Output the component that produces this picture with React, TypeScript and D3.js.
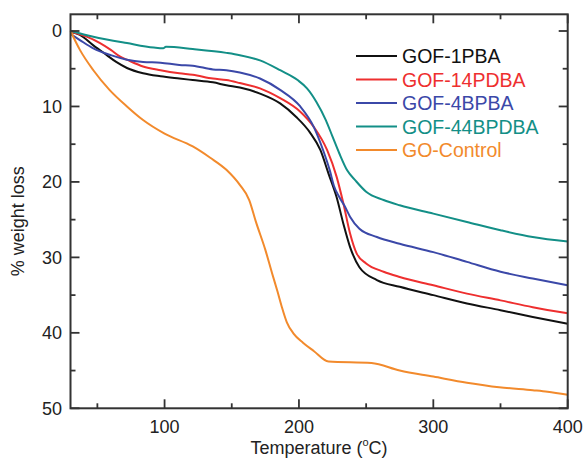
import React from "react";
import * as d3 from "d3";

const xMajorTicks = [100, 200, 300, 400];
const xMinorTicks = [50, 150, 250, 350];
const yMajorTicks = [0, 10, 20, 30, 40, 50];
const yMinorTicks = [5, 15, 25, 35, 45];

const tempBlack = [30, 37, 47, 57, 64, 72, 84, 97, 111, 121, 136, 146, 156, 171, 186, 198, 208, 216, 222, 228, 233, 238, 245, 258, 275, 300, 325, 350, 374, 400];
const lossBlack = [0.1, 0.5, 1.9, 3.2, 4.1, 4.9, 5.6, 6.0, 6.3, 6.5, 6.8, 7.2, 7.5, 8.3, 9.6, 11.4, 13.4, 15.8, 18.9, 22.0, 25.5, 28.6, 31.3, 33.0, 33.9, 35.0, 36.1, 37.0, 37.9, 38.8];

const tempRed = [30, 42, 52, 60, 67, 72, 84, 97, 111, 121, 136, 146, 156, 171, 186, 201, 211, 221, 228, 233, 238, 243, 250, 263, 275, 300, 325, 350, 374, 400];
const lossRed = [0.1, 0.75, 1.6, 2.5, 3.4, 3.8, 4.7, 5.2, 5.6, 5.8, 6.3, 6.5, 6.9, 7.6, 8.9, 10.7, 12.7, 15.8, 19.3, 22.8, 26.8, 29.5, 30.8, 31.9, 32.6, 33.7, 34.8, 35.7, 36.6, 37.4];

const tempBlue = [30, 37, 47, 60, 72, 84, 97, 111, 121, 136, 146, 156, 171, 186, 201, 211, 218, 223, 226, 230, 234, 238, 245, 258, 275, 300, 325, 350, 374, 400];
const lossBlue = [0.4, 1.2, 2.3, 3.2, 3.8, 4.1, 4.2, 4.5, 4.6, 5.1, 5.2, 5.5, 6.3, 7.8, 10.0, 12.7, 15.8, 18.5, 20.5, 22.0, 23.2, 24.6, 26.2, 27.3, 28.2, 29.3, 30.6, 31.9, 32.8, 33.7];

const tempTeal = [30, 47, 72, 92, 99, 101, 121, 146, 156, 171, 186, 199, 206, 213, 220, 225, 230, 236, 242, 250, 263, 275, 300, 325, 350, 374, 400];
const lossTeal = [0, 0.75, 1.6, 2.2, 2.3, 2.1, 2.4, 2.9, 3.2, 3.9, 5.2, 6.5, 7.6, 9.4, 11.8, 14.0, 16.2, 18.5, 19.8, 21.3, 22.4, 23.1, 24.2, 25.3, 26.4, 27.3, 27.9];

const tempOrange = [30, 37, 47, 59, 72, 84, 100, 121, 134, 146, 156, 163, 168, 175, 180, 184, 187, 191, 196, 203, 211, 222, 254, 275, 300, 325, 349, 374, 385, 400];
const lossOrange = [0, 2.5, 5.2, 7.8, 10.0, 11.8, 13.6, 15.3, 16.8, 18.4, 20.4, 22.4, 25.3, 29.0, 32.1, 34.5, 36.4, 38.6, 40.1, 41.3, 42.4, 43.8, 44.0, 45.0, 45.8, 46.6, 47.2, 47.6, 47.8, 48.2];

const seriesNames = ["GOF-1PBA", "GOF-14PDBA", "GOF-4BPBA", "GOF-44BPDBA", "GO-Control"];
const seriesColors = ["#111111", "#ee2f2f", "#3b48a8", "#138f87", "#f28a2c"];
const seriesTemps = [tempBlack, tempRed, tempBlue, tempTeal, tempOrange];
const seriesLoss = [lossBlack, lossRed, lossBlue, lossTeal, lossOrange];

const W = 583;
const H = 459;
const L = 70.5;
const R = 567.7;
const T = 14.3;
const B = 408.3;

export default function App() {
  const x = d3.scaleLinear().domain([30, 400]).range([L, R]);
  const y = d3.scaleLinear().domain([0, 50]).range([31, B]);
  const line = d3
    .line<[number, number]>()
    .x((d) => x(d[0]))
    .y((d) => y(d[1]))
    .curve(d3.curveMonotoneX);
  const axisColor = "#333";
  const font = "'Liberation Sans', Arial, sans-serif";
  const legendRowsY = [56, 79.5, 103, 126.5, 150];

  return (
    <svg width={W} height={H} style={{ position: "absolute", left: 0, top: 0, background: "#fff" }} fontFamily={font}>
      {seriesNames.map((name, i) => (
        <path
          key={name}
          d={line(seriesTemps[i].map((t, j) => [t, seriesLoss[i][j]] as [number, number])) || ""}
          fill="none"
          stroke={seriesColors[i]}
          strokeWidth={2}
          strokeLinejoin="round"
        />
      ))}
      <rect x={L} y={T} width={R - L} height={B - T} fill="none" stroke={axisColor} strokeWidth={2} />
      {xMajorTicks.map((t) => (
        <g key={"xM" + t}>
          <line x1={x(t)} x2={x(t)} y1={B} y2={B - 9} stroke={axisColor} strokeWidth={1.8} />
          <line x1={x(t)} x2={x(t)} y1={T} y2={T + 9} stroke={axisColor} strokeWidth={1.8} />
          <text x={x(t)} y={433} textAnchor="middle" fontSize={18} fill="#222">
            {t}
          </text>
        </g>
      ))}
      {xMinorTicks.map((t) => (
        <g key={"xm" + t}>
          <line x1={x(t)} x2={x(t)} y1={B} y2={B - 5} stroke={axisColor} strokeWidth={1.8} />
          <line x1={x(t)} x2={x(t)} y1={T} y2={T + 5} stroke={axisColor} strokeWidth={1.8} />
        </g>
      ))}
      {yMajorTicks.map((t) => (
        <g key={"yM" + t}>
          <line x1={L} x2={L + 9} y1={y(t)} y2={y(t)} stroke={axisColor} strokeWidth={1.8} />
          <line x1={R} x2={R - 9} y1={y(t)} y2={y(t)} stroke={axisColor} strokeWidth={1.8} />
          <text x={62} y={y(t)} dy="0.35em" textAnchor="end" fontSize={18} fill="#222">
            {t}
          </text>
        </g>
      ))}
      {yMinorTicks.map((t) => (
        <g key={"ym" + t}>
          <line x1={L} x2={L + 5} y1={y(t)} y2={y(t)} stroke={axisColor} strokeWidth={1.8} />
          <line x1={R} x2={R - 5} y1={y(t)} y2={y(t)} stroke={axisColor} strokeWidth={1.8} />
        </g>
      ))}
      <text x={319} y={454} textAnchor="middle" fontSize={18} fill="#222">
        Temperature (<tspan fontSize={11} dy={-8}>o</tspan>
        <tspan dy={8}>C)</tspan>
      </text>
      <text transform={`translate(24,${(T + B) / 2 + 10}) rotate(-90)`} textAnchor="middle" fontSize={18} fill="#222">
        % weight loss
      </text>
      {seriesNames.map((name, i) => (
        <g key={"lg" + name}>
          <line x1={356} x2={397} y1={legendRowsY[i]} y2={legendRowsY[i]} stroke={seriesColors[i]} strokeWidth={2} />
          <text x={402} y={legendRowsY[i]} dy="0.36em" fontSize={19.5} fill={i === 0 ? "#111" : seriesColors[i]}>
            {name}
          </text>
        </g>
      ))}
    </svg>
  );
}
